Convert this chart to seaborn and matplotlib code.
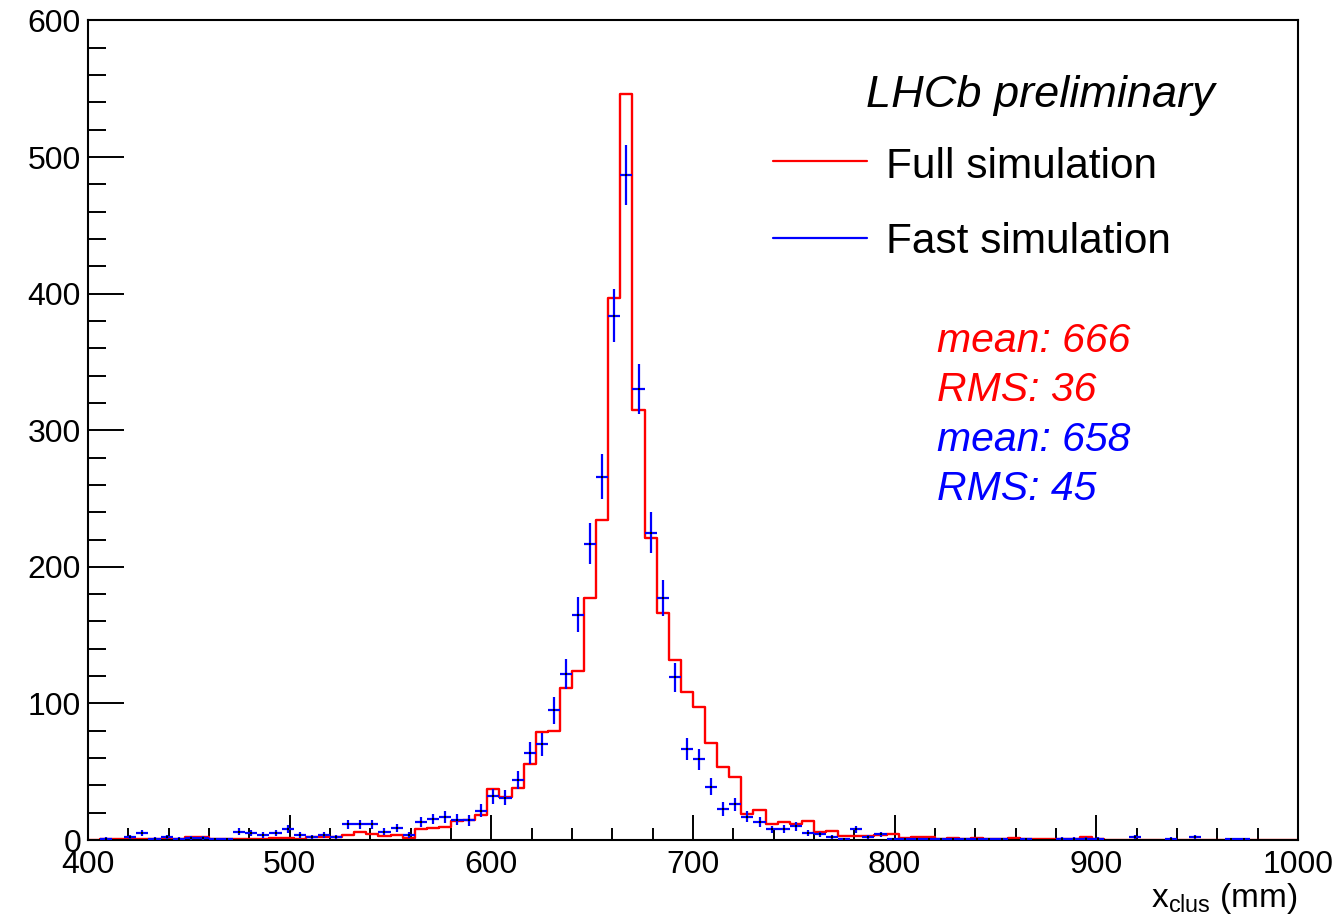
import numpy as np
import pandas as pd
import matplotlib
matplotlib.use("Agg")
import matplotlib.pyplot as plt
from matplotlib.lines import Line2D
from matplotlib.ticker import MultipleLocator
import seaborn as sns

# ---- data ----
x_lo, x_hi, n_bins = 400, 1000, 100

full_sim = [
    0, 0.5, 0.5, 0.5, 0.5, 0.5, 1, 1, 2, 2,
    1, 0.5, 1, 1, 1, 1.5, 1.5, 1, 2, 2,
    2, 3.7, 6.1, 4.4, 2.9, 3.7, 1.2, 7.8, 8.5, 9.8,
    13.9, 15, 18.5, 37, 31.5, 38, 56, 79, 80, 111,
    124, 177, 234, 397, 546, 315, 221, 166, 132, 108.5,
    97.5, 70.7, 53.6, 46.3, 18.8, 22, 11.5, 12.9, 12, 14,
    6, 6.8, 2.9, 2.9, 2.9, 3.7, 4.1, 1.5, 2, 2,
    0.7, 1.6, 0.7, 1.8, 0.5, 0.5, 1.8, 0.5, 0.5, 0.5,
    0.5, 0.5, 2.4, 0.5, 0.3, 0.3, 0.3, 0.3, 0.3, 0.3,
    0.3, 0.3, 0.3, 0.3, 0.3, 0.3, 0.3, 0.3, 0.3, 0.3,
]

fast_sim = [
    0, 1, 0, 2, 5, 1, 2, 1, 1.5, 1.5,
    0.5, 0.5, 6, 5, 3.7, 5, 8, 3.7, 2.4, 3.7,
    2.4, 11.5, 11.5, 11.5, 6, 8.5, 3.7, 13, 15.4, 16.8,
    15, 14.3, 21.5, 32, 31, 44, 64, 70, 95, 121.5,
    165, 217, 266, 384, 487, 330, 225, 177, 119, 66.6,
    59, 39, 22.7, 26, 17, 12.9, 7.8, 8, 10, 4.9,
    4.1, 2, 0.7, 7.8, 2, 4.1, 0.5, 0.7, 0.7, 0.7,
    0.7, 0.7, 0.5, 0.7, 0.5, 0.5, 0, 0.7, 0, 0,
    1, 1, 1, 1, 0, 0, 2, 0, 0, 1,
    0, 2, 0, 0, 0.7, 0.7, 0, 0, 0, 0,
]

x_ticks = [400, 500, 600, 700, 800, 900, 1000]
y_ticks = [0, 100, 200, 300, 400, 500, 600]

label_full = "Full simulation"
label_fast = "Fast simulation"
header = "LHCb preliminary"
stats_full = ["mean: 666", "RMS: 36"]
stats_fast = ["mean: 658", "RMS: 45"]
x_title = r"x$_{\mathrm{clus}}$ (mm)"

# ---- styling ----
sns.set_style("white")
plt.rcParams["font.family"] = ["Liberation Sans", "DejaVu Sans"]
plt.rcParams["mathtext.fontset"] = "custom"
plt.rcParams["mathtext.rm"] = "Liberation Sans"
plt.rcParams["mathtext.it"] = "Liberation Sans:italic"
plt.rcParams["text.color"] = "black"
plt.rcParams["axes.labelcolor"] = "black"
plt.rcParams["xtick.color"] = "black"
plt.rcParams["ytick.color"] = "black"

W, H = 1344, 917
fig = plt.figure(figsize=(W / 100, H / 100), dpi=100)
ax = fig.add_axes([88 / W, 1 - 840 / H, (1298 - 88) / W, (840 - 20.5) / H])

edges = np.linspace(x_lo, x_hi, n_bins + 1)
centers = 0.5 * (edges[:-1] + edges[1:])
half = 0.5 * (edges[1] - edges[0])
full = np.asarray(full_sim, float)
fast = np.asarray(fast_sim, float)

df_full = pd.DataFrame({"x": centers, "w": full})

# full simulation: step histogram
sns.histplot(data=df_full, x="x", weights="w", bins=[float(e) for e in edges],
             element="step", fill=False, color="#ff0000", linewidth=1.7, ax=ax)

# fast simulation: points with Poisson error bars
m = fast > 0
ax.errorbar(centers[m], fast[m], xerr=half, yerr=np.sqrt(fast[m]), fmt="none",
            ecolor="#0000ff", elinewidth=1.6, capsize=0, zorder=3)
df_fast = pd.DataFrame({"x": centers[m], "y": fast[m]})
sns.scatterplot(data=df_fast, x="x", y="y", color="black", s=4, marker="s",
                linewidth=0, ax=ax, zorder=4)

ax.set_xlim(x_lo, x_hi)
ax.set_ylim(0, 600)
ax.set_xticks(x_ticks)
ax.set_yticks(y_ticks)
ax.xaxis.set_minor_locator(MultipleLocator(20))
ax.yaxis.set_minor_locator(MultipleLocator(20))
ax.tick_params(axis="both", which="both", direction="in", width=1.4, color="black",
               bottom=True, left=True, top=False, right=False,
               labelsize=23, labelcolor="black")
ax.tick_params(axis="x", which="major", length=17.7, pad=7)
ax.tick_params(axis="x", which="minor", length=8.8)
ax.tick_params(axis="y", which="major", length=26, pad=5)
ax.tick_params(axis="y", which="minor", length=13)
for s in ax.spines.values():
    s.set_visible(True)
    s.set_color("black")
    s.set_linewidth(1.5)
ax.set_ylabel("")
ax.set_xlabel(x_title, loc="right", fontsize=24, labelpad=1, color="black")

# ---- annotations (pixel positions converted to figure fractions) ----
def fx(px):
    return px / W

def fy(py):
    return 1 - py / H

fig.text(fx(866), fy(106.5), header, fontsize=32.5, style="italic",
         color="black", va="baseline", ha="left")
fig.add_artist(Line2D([fx(773), fx(867)], [fy(160.7)] * 2, color="#ff0000", lw=1.6))
fig.add_artist(Line2D([fx(773), fx(867)], [fy(238.3)] * 2, color="#0000ff", lw=1.6))
fig.text(fx(886), fy(178.3), label_full, fontsize=30.5, color="black",
         va="baseline", ha="left")
fig.text(fx(886), fy(253.3), label_fast, fontsize=30.5, color="black",
         va="baseline", ha="left")

for i, t in enumerate(stats_full + stats_fast):
    col = "#ff0000" if i < 2 else "#0000ff"
    fig.text(fx(937), fy(351.7 + 49.5 * i), t, fontsize=29.5, style="italic",
             color=col, va="baseline", ha="left")

fig.savefig("out.png", dpi=100, facecolor="white")
